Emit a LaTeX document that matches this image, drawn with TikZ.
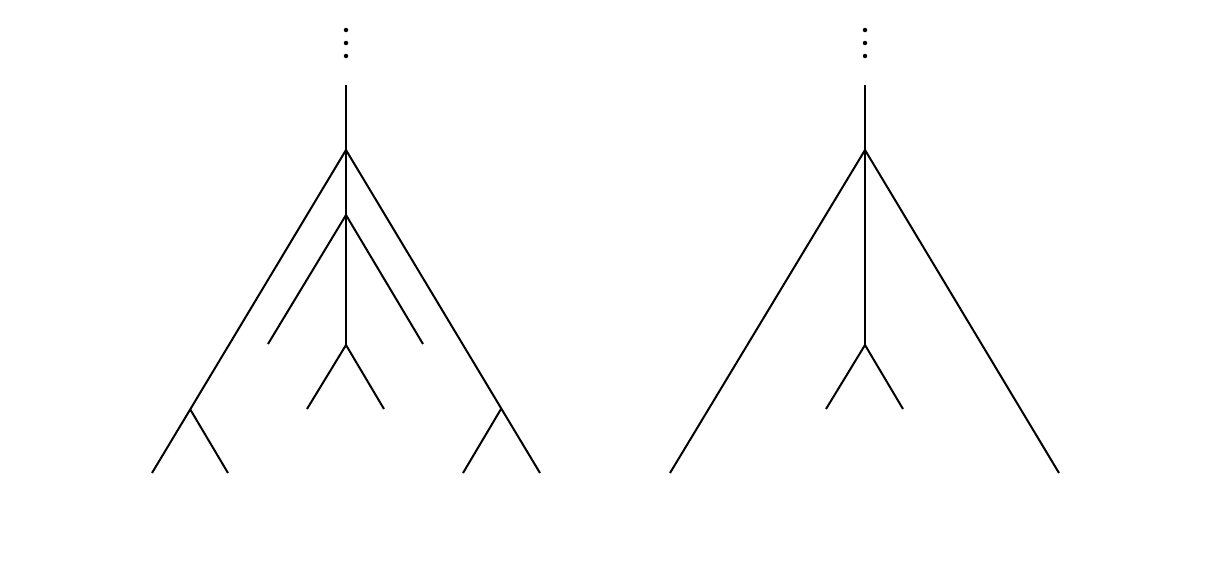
\documentclass[tikz,border=0pt]{standalone}
\begin{document}
\begin{tikzpicture}[x=1pt,y=-1pt,line width=2pt,line cap=butt,
  edge/.style={draw=black},
  dotmark/.style={fill=black,circle,inner sep=0pt,minimum size=4.5pt}]
\useasboundingbox (0,0) rectangle (1218,562);
% Left tree
\coordinate (Ltop) at (346,85);
\coordinate (Lr) at (346,150);
\coordinate (Ll) at (152,473);
\coordinate (Lla) at (190,409);
\coordinate (Llb) at (228,473);
\coordinate (Rr) at (540,473);
\coordinate (Rra) at (501,409);
\coordinate (Rrb) at (463,473);
\coordinate (Lm1) at (346,215);
\coordinate (Lm1a) at (268,344);
\coordinate (Lm1b) at (423,344);
\coordinate (Lm2) at (346,345);
\coordinate (Lm2a) at (307,409);
\coordinate (Lm2b) at (384,409);
\node[dotmark] (Ld1) at (346,30) {};
\node[dotmark] (Ld2) at (346,43) {};
\node[dotmark] (Ld3) at (346,56) {};
\draw[edge] (Ltop) -- (Lr);
\draw[edge] (Lr) -- (Ll);
\draw[edge] (Lla) -- (Llb);
\draw[edge] (Lr) -- (Rr);
\draw[edge] (Rra) -- (Rrb);
\draw[edge] (Lr) -- (Lm2);
\draw[edge] (Lm1a) -- (Lm1) -- (Lm1b);
\draw[edge] (Lm2a) -- (Lm2) -- (Lm2b);
% Right tree
\coordinate (Btop) at (865,85);
\coordinate (Br) at (865,150);
\coordinate (Bl) at (670,473);
\coordinate (Brr) at (1059,473);
\coordinate (Bm) at (865,345);
\coordinate (Bma) at (826,409);
\coordinate (Bmb) at (903,409);
\node[dotmark] (Bd1) at (865,30) {};
\node[dotmark] (Bd2) at (865,43) {};
\node[dotmark] (Bd3) at (865,56) {};
\draw[edge] (Btop) -- (Br);
\draw[edge] (Bl) -- (Br) -- (Brr);
\draw[edge] (Br) -- (Bm);
\draw[edge] (Bma) -- (Bm) -- (Bmb);
\end{tikzpicture}
\end{document}
